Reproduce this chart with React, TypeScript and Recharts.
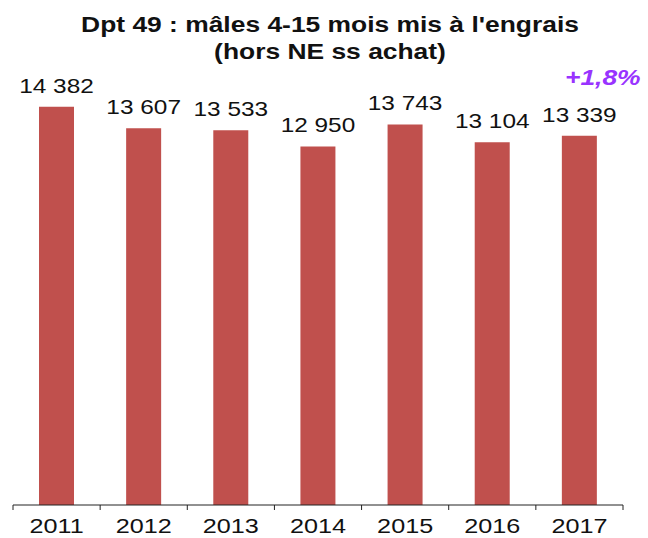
import React from 'react';
import { BarChart, Bar, XAxis, YAxis, LabelList } from 'recharts';

// Dpt 49 : males 4-15 mois mis à l'engrais, per year
const years = ['2011', '2012', '2013', '2014', '2015', '2016', '2017'];
const heads = [14382, 13607, 13533, 12950, 13743, 13104, 13339];
const titleLines = ["Dpt 49 : mâles 4-15 mois mis à l'engrais", '(hors NE ss achat)'];
const evolution = '+1,8%';

const data = years.map((year, i) => ({ year, heads: heads[i] }));

const W = 648;
const H = 538;
const margin = { top: 62, right: 25, left: 13, bottom: 0 };
const halfBand = (W - margin.left - margin.right) / years.length / 2;
const FONT = '"Liberation Sans", Arial, sans-serif';
// the source picture is stretched a bit horizontally
const STRETCH = 1.2;

// french thousands separator: 14 382
const fmt = (v: number) => String(v).replace(/\B(?=(\d{3})+(?!\d))/g, ' ');

const YearTick = (props: any) => {
    const { x, y, payload, index } = props;
    return (
        <g>
            <line x1={x - halfBand} y1={y - 8} x2={x - halfBand} y2={y - 3} stroke="#222" />
            {index === years.length - 1 && (
                <line x1={x + halfBand} y1={y - 8} x2={x + halfBand} y2={y - 3} stroke="#222" />
            )}
            <text
                transform={`translate(${x},${y + 20}) scale(${STRETCH},1)`}
                textAnchor="middle"
                fill="#111"
                style={{ fontFamily: FONT, fontSize: 21 }}
            >
                {payload.value}
            </text>
        </g>
    );
};

const ValueLabel = (props: any) => {
    const { x, y, width, value } = props;
    return (
        <text
            transform={`translate(${x + width / 2},${y - 14}) scale(${STRETCH + 0.02},1)`}
            textAnchor="middle"
            fill="#111"
            style={{ fontFamily: FONT, fontSize: 20 }}
        >
            {fmt(Number(value))}
        </text>
    );
};

const App = () => {
    return (
        <div style={{ position: 'absolute', left: 0, top: 0, width: W, height: H, background: '#fff' }}>
            <BarChart width={W} height={H} data={data} margin={margin} barSize={35}>
                <XAxis
                    dataKey="year"
                    axisLine={{ stroke: '#222' }}
                    tickLine={false}
                    tickSize={6}
                    tickMargin={2}
                    height={33}
                    interval={0}
                    tick={<YearTick />}
                />
                <YAxis hide domain={[0, 16000]} />
                <Bar dataKey="heads" fill="#C0504D" isAnimationActive={false}>
                    <LabelList dataKey="heads" content={<ValueLabel />} />
                </Bar>
            </BarChart>

            <div
                style={{
                    position: 'absolute',
                    left: 0,
                    top: 11,
                    width: 660,
                    textAlign: 'center',
                    fontFamily: FONT,
                    fontWeight: 'bold',
                    fontSize: 22,
                    lineHeight: '27px',
                    color: '#111',
                    transform: `scaleX(${STRETCH})`,
                    transformOrigin: '330px 0',
                }}
            >
                {titleLines.map((t) => (
                    <div key={t}>{t}</div>
                ))}
            </div>
            <div
                style={{
                    position: 'absolute',
                    left: 565,
                    top: 65,
                    fontFamily: FONT,
                    fontWeight: 'bold',
                    fontStyle: 'italic',
                    fontSize: 22,
                    color: '#9933FF',
                    transform: `scaleX(${STRETCH})`,
                    transformOrigin: '0 0',
                }}
            >
                {evolution}
            </div>
        </div>
    );
};

export default App;
